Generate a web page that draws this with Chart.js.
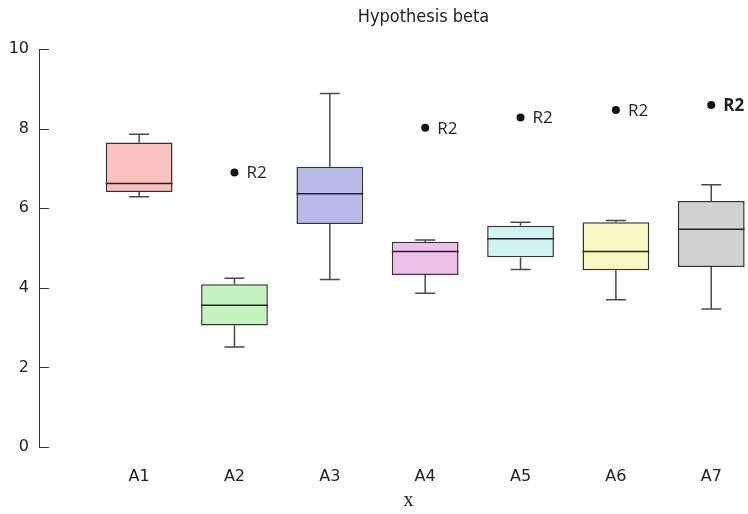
<!DOCTYPE html>
<html>
<head>
<meta charset="utf-8">
<script src="https://cdn.jsdelivr.net/npm/chart.js@4/dist/chart.umd.min.js"></script>
<style>
  html,body{margin:0;padding:0;background:#fff;overflow:hidden;}
  #wrap{width:818px;height:514px;}
</style>
</head>
<body>
<div id="wrap"><canvas id="box-chart" width="818" height="514"></canvas></div>
<script>
// box plot values
const CATS = ["A1","A2","A3","A4","A5","A6","A7"];
const WHISK_LO = [6.29,2.51,4.21,3.86,4.46,3.70,3.47];
const Q1 = [6.41,3.05,5.60,4.32,4.77,4.44,4.52];
const MEDIAN = [6.62,3.56,6.36,4.91,5.23,4.91,5.47];
const Q3 = [7.65,4.09,7.04,5.16,5.56,5.65,6.18];
const WHISK_HI = [7.86,4.24,8.88,5.20,5.65,5.69,6.59];
const OUT_CAT = ["A2","A4","A5","A6","A7"];
const OUT_VAL = [6.90,8.02,8.28,8.47,8.59];
const OUT_LABEL = ["R2","R2","R2","R2","R2"];
const Y_TICKS = [0,2,4,6,8,10];
const BOX_COLORS = ["#fbc0c0","#c5f3c0","#babaea","#ecc0e9","#cff3f0","#f8f8c0","#d0d1d0"];
const TITLE = "Hypothesis beta";

const boxPlugin = {
  id:"boxParts",
  afterDatasetsDraw(chart){
    const {ctx, scales:{x,y}, chartArea} = chart;
    ctx.save();
    // whiskers, caps, medians
    CATS.forEach((c,i)=>{
      const cx = x.getPixelForValue(i+1);
      const half = (x.getPixelForValue(1.35)-x.getPixelForValue(1));
      const cap = (x.getPixelForValue(1.105)-x.getPixelForValue(1));
      ctx.strokeStyle="#4a4a4a"; ctx.lineWidth=1.5;
      ctx.beginPath();
      ctx.moveTo(cx,y.getPixelForValue(Q3[i])); ctx.lineTo(cx,y.getPixelForValue(WHISK_HI[i]));
      ctx.moveTo(cx-cap,y.getPixelForValue(WHISK_HI[i])); ctx.lineTo(cx+cap,y.getPixelForValue(WHISK_HI[i]));
      ctx.moveTo(cx,y.getPixelForValue(Q1[i])); ctx.lineTo(cx,y.getPixelForValue(WHISK_LO[i]));
      ctx.moveTo(cx-cap,y.getPixelForValue(WHISK_LO[i])); ctx.lineTo(cx+cap,y.getPixelForValue(WHISK_LO[i]));
      ctx.stroke();
      ctx.strokeStyle="#222";
      ctx.beginPath();
      ctx.moveTo(cx-half,y.getPixelForValue(MEDIAN[i])); ctx.lineTo(cx+half,y.getPixelForValue(MEDIAN[i]));
      ctx.stroke();
    });
    // outlier labels
    const meta = chart.getDatasetMeta(1);
    ctx.fillStyle="#222"; ctx.textBaseline="middle"; ctx.textAlign="left";
    meta.data.forEach((pt,i)=>{
      ctx.font = (i===OUT_LABEL.length-1?"bold ":"")+"17px 'Open Sans'";
      ctx.fillText(OUT_LABEL[i], pt.x+12, pt.y+1);
    });
    // inward y ticks
    ctx.strokeStyle="#333"; ctx.lineWidth=1;
    y.ticks.forEach(t=>{
      const py = Math.round(y.getPixelForValue(t.value))+0.5;
      ctx.beginPath(); ctx.moveTo(chartArea.left,py); ctx.lineTo(chartArea.left+10,py); ctx.stroke();
    });
    // title (original figure was centred on a wider page)
    ctx.font="18px 'DejaVu Sans Condensed','DejaVu Sans'";
    ctx.textAlign="center"; ctx.textBaseline="alphabetic";
    ctx.fillText(TITLE,(chartArea.left+chartArea.right)/2+15,22);
    ctx.restore();
  }
};

new Chart(document.getElementById("box-chart"), {
  type:"bar",
  data:{
    datasets:[
      {type:"bar", data:CATS.map((c,i)=>({x:i+1,y:[Q1[i],Q3[i]]})),
       backgroundColor:BOX_COLORS, borderColor:"rgba(30,30,30,0.9)", borderWidth:1.5,
       borderSkipped:false, barPercentage:0.7, categoryPercentage:1},
      {type:"scatter", data:OUT_CAT.map((c,i)=>({x:CATS.indexOf(c)+1,y:OUT_VAL[i]})),
       pointRadius:4, pointBackgroundColor:"#111", pointBorderWidth:0}
    ]
  },
  options:{
    responsive:false, animation:false, events:[],
    layout:{padding:{left:0,right:40,top:49,bottom:0}},
    plugins:{legend:{display:false}, tooltip:{enabled:false}, title:{display:false}},
    scales:{
      x:{type:"linear", min:-0.05, max:7.70, offset:false,
         afterFit:s=>{s.height=67;},
         afterBuildTicks:s=>{s.ticks=CATS.map((c,i)=>({value:i+1}));},
         ticks:{callback:v=>CATS[v-1], color:"#222", padding:12, maxRotation:0, autoSkip:false,
                font:{family:"'DejaVu Sans'",size:16}},
         grid:{display:false}, border:{display:false},
         title:{display:true, text:"x", color:"#222", font:{family:"'Liberation Serif'",size:20},
                padding:{top:0,bottom:1}}},
      y:{min:0, max:10,
         afterFit:s=>{s.width=39;},
         afterBuildTicks:s=>{s.ticks=Y_TICKS.map(v=>({value:v}));},
         ticks:{color:"#222", padding:10, font:{family:"'DejaVu Sans'",size:16}},
         grid:{display:false, drawTicks:false}, border:{display:true,color:"#333",width:1}}
    }
  },
  plugins:[boxPlugin]
});
</script>
</body>
</html>
